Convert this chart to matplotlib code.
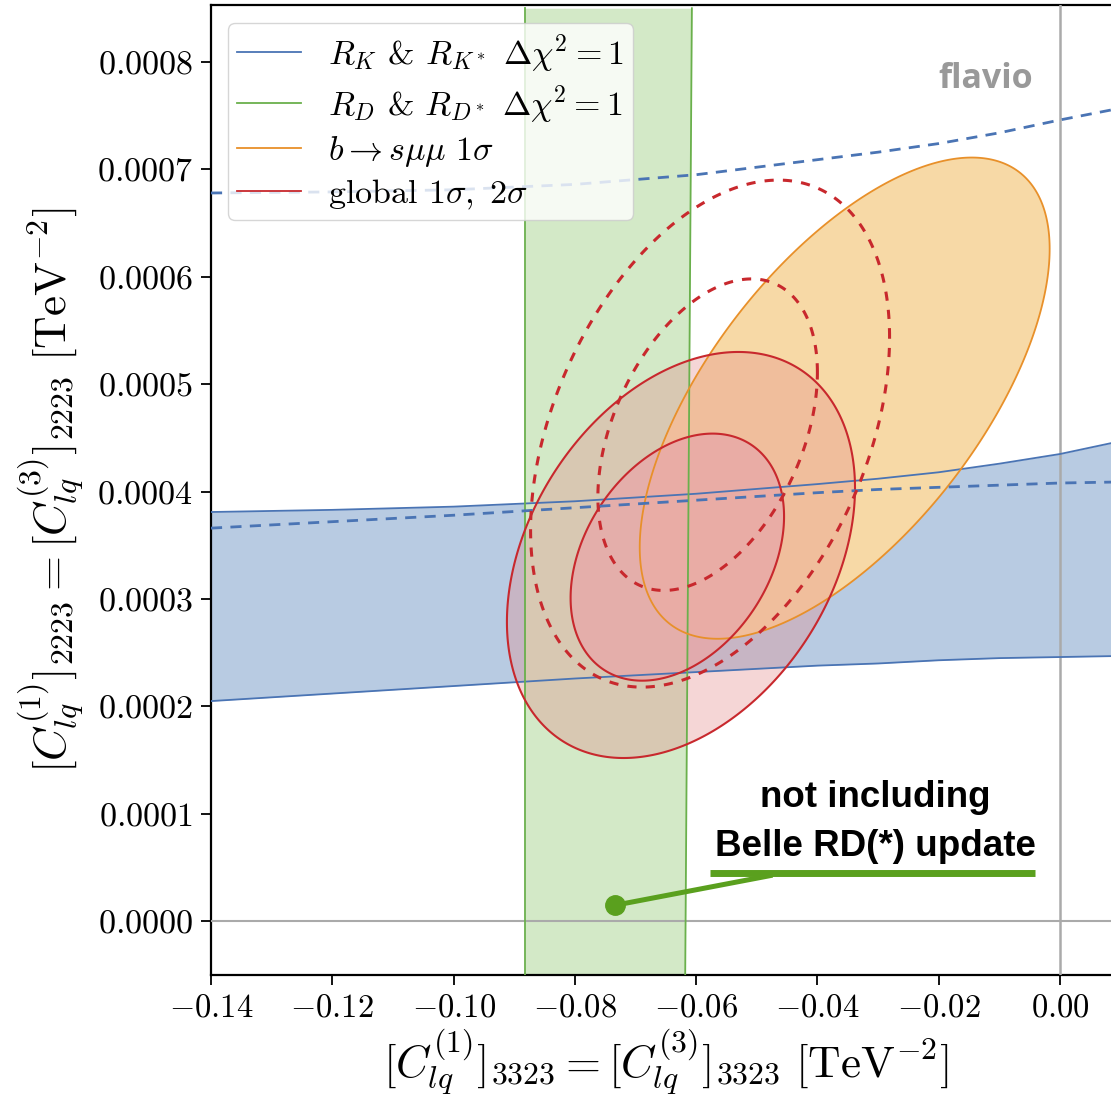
import matplotlib
matplotlib.use('Agg')
import matplotlib.pyplot as plt
import numpy as np
from matplotlib.lines import Line2D
from matplotlib.patches import Polygon
from matplotlib.ticker import FuncFormatter, MultipleLocator

plt.rcParams['mathtext.fontset'] = 'cm'
plt.rcParams['font.family'] = ['cmr10', 'DejaVu Serif']
plt.rcParams['axes.formatter.use_mathtext'] = True
plt.rcParams['axes.unicode_minus'] = False

# R_K & R_K* band (Delta chi^2 = 1), edges
rk_x = [-0.14, -0.12, -0.10, -0.08, -0.06, -0.04, -0.03, -0.02, -0.01, 0.0, 0.01]
rk_lo = [0.000205, 0.000212, 0.000219, 0.000226, 0.000232, 0.000238, 0.000240, 0.000243,
         0.000245, 0.000246, 0.000247]
rk_hi = [0.000381, 0.000383, 0.000386, 0.000391, 0.000398, 0.000407, 0.000412, 0.000418,
         0.000426, 0.000435, 0.000447]
# dashed contours (previous R_K result)
rk_old_lo = [0.000366, 0.000372, 0.000378, 0.000385, 0.000392, 0.000399, 0.000402, 0.000404,
             0.000406, 0.000408, 0.000409]
rk_old_hi = [0.000678, 0.000679, 0.000681, 0.000686, 0.000695, 0.000709, 0.000716, 0.000724,
             0.000734, 0.000746, 0.000757]

# R_D & R_D* band
rd_y = [-0.00005, 0.00085]
rd_left = [-0.0882, -0.0882]
rd_right = [-0.0618, -0.0607]

# 1 sigma / 2 sigma contours: (centre x, centre y, half-width x, half-width y, correlation)
bsmumu = (-0.0355, 0.000487, 0.0338, 0.000224, 0.62)
glob_1s = (-0.0631, 0.000339, 0.0176, 0.000115, 0.33)
glob_2s = (-0.0625, 0.000341, 0.0287, 0.000189, 0.33)
glob_old_1s = (-0.0581, 0.000453, 0.0181, 0.000145, 0.40)
glob_old_2s = (-0.0577, 0.000454, 0.0296, 0.000236, 0.38)

x_ticks = [-0.14, -0.12, -0.10, -0.08, -0.06, -0.04, -0.02, 0.00]

blue = '#4a74b4'
green = '#6ab04c'
orange = '#e8902a'
red = '#c8282d'
marker_green = '#5aa01e'


def contour(p):
    cx, cy, sx, sy, rho = p
    t = np.linspace(0, 2 * np.pi, 400)[:-1]
    return np.column_stack([cx + sx * np.cos(t),
                            cy + sy * (rho * np.cos(t) + np.sqrt(1 - rho ** 2) * np.sin(t))])


fig = plt.figure(figsize=(11.11, 11.09), dpi=100)
ax = fig.add_axes([211 / 1111, 134 / 1109, 909 / 1111, 970 / 1109])

# blue band
ax.fill_between(rk_x, rk_lo, rk_hi, color='#b8cbe2', lw=0, zorder=1)
ax.plot(rk_x, rk_lo, color=blue, lw=1.3, zorder=4)
ax.plot(rk_x, rk_hi, color=blue, lw=1.3, zorder=4)
ax.plot(rk_x, rk_old_lo, color=blue, lw=2, ls=(0, (4, 3)), zorder=5)
ax.plot(rk_x, rk_old_hi, color=blue, lw=2, ls=(0, (4, 3)), zorder=5)

# green band
ax.fill_betweenx(rd_y, rd_left, rd_right, color='#d3e9c7', lw=0, zorder=1.2)
ax.plot(rd_left, rd_y, color=green, lw=1.3, zorder=4)
ax.plot(rd_right, rd_y, color=green, lw=1.3, zorder=4)

# b -> s mu mu
ax.add_patch(Polygon(contour(bsmumu), closed=True, facecolor='#f7d9a6', edgecolor='none', zorder=1.5))
ax.add_patch(Polygon(contour(bsmumu), closed=True, fill=False, edgecolor=orange, lw=1.3, zorder=4))

# global fit
ax.add_patch(Polygon(contour(glob_2s), closed=True, facecolor='#e48c8c', alpha=0.35,
                     edgecolor='none', zorder=2))
ax.add_patch(Polygon(contour(glob_1s), closed=True, facecolor='#e8a8a8', alpha=0.8,
                     edgecolor='none', zorder=2.1))
for p in (glob_2s, glob_1s):
    ax.add_patch(Polygon(contour(p), closed=True, fill=False, edgecolor=red, lw=1.5, zorder=4))
for p in (glob_old_2s, glob_old_1s):
    ax.add_patch(Polygon(contour(p), closed=True, fill=False, edgecolor=red, lw=2.2,
                         ls=(0, (3, 3)), zorder=5))

ax.axvline(0, color='#aaaaaa', lw=1.8, zorder=3)
ax.axhline(0, color='#aaaaaa', lw=1.5, zorder=3)

ax.set_xlim(-0.14, 0.0099)
ax.set_ylim(-0.00005, 0.000853)
ax.set_xticks(x_ticks)
ax.yaxis.set_major_locator(MultipleLocator(0.0001))
ax.xaxis.set_major_formatter(FuncFormatter(lambda v, _: '$%.2f$' % v))
ax.yaxis.set_major_formatter(FuncFormatter(lambda v, _: '$%.4f$' % (0.0 if abs(v) < 1e-12 else v)))
ax.tick_params(direction='out', length=7, width=1.3, pad=6)
ax.tick_params(axis='x', labelsize=23.5)
ax.tick_params(axis='y', labelsize=24.5)
for s in ax.spines.values():
    s.set_linewidth(1.6)

ax.set_xlabel(r'$[C_{lq}^{(1)}]_{3323} = [C_{lq}^{(3)}]_{3323}\ [\mathrm{TeV}^{-2}]$', fontsize=32.5, labelpad=4)
ax.set_ylabel(r'$[C_{lq}^{(1)}]_{2223} = [C_{lq}^{(3)}]_{2223}\ [\mathrm{TeV}^{-2}]$', fontsize=32.5, labelpad=8)

handles = [Line2D([], [], color=blue, lw=1.3),
           Line2D([], [], color=green, lw=1.3),
           Line2D([], [], color=orange, lw=1.3),
           Line2D([], [], color=red, lw=1.3)]
labels = [r'$R_K$ & $R_{K^*}$ $\Delta\chi^2=1$',
          r'$R_D$ & $R_{D^*}$ $\Delta\chi^2=1$',
          r'$b\to s\mu\mu\ 1\sigma$',
          r'global $1\sigma,\ 2\sigma$']
leg = ax.legend(handles, labels, loc='upper left', bbox_to_anchor=(0.0187, 0.981),
                borderaxespad=0, fontsize=24.5, handlelength=1.9, labelspacing=0.25,
                borderpad=0.25, framealpha=0.8, edgecolor='#cccccc', fancybox=True)
leg.set_zorder(6)

ax.text(-0.0122, 0.000784, 'flavio', fontsize=24.5, fontweight='bold', color='#999999',
        family=['Open Sans', 'DejaVu Sans'], ha='center', va='center', zorder=7)

# annotation
ax.text(-0.0305, 0.0000925, 'not including\nBelle RD(*) update', fontsize=26.5,
        fontweight='bold', family=['Liberation Sans', 'DejaVu Sans'], ha='center', va='center',
        linespacing=1.55, zorder=8)
ax.plot([-0.0577, -0.0041], [0.0000447, 0.0000447], color=marker_green, lw=5, solid_capstyle='butt', zorder=8)
ax.plot([-0.0478, -0.0734], [0.0000425, 0.0000149], color=marker_green, lw=3.6, zorder=8)
ax.plot([-0.0734], [0.0000149], 'o', color=marker_green, ms=14, zorder=8)

fig.savefig('out.png', dpi=100)
